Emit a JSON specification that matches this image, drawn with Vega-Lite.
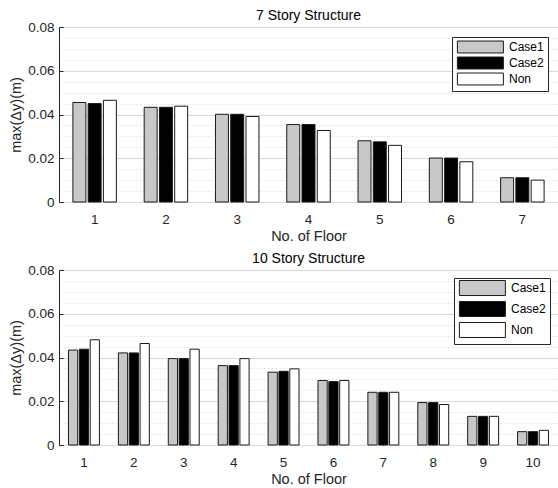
{
 "$schema": "https://vega.github.io/schema/vega-lite/v6.json",
 "background": "white",
 "padding": {"left": 8, "top": 8, "right": 1, "bottom": 0},
 "spacing": 7,
 "datasets": {
  "s7": [
   {"floor": 1, "case": "Case1", "v": 0.0455}, {"floor": 1, "case": "Case2", "v": 0.0450}, {"floor": 1, "case": "Non", "v": 0.0465},
   {"floor": 2, "case": "Case1", "v": 0.0433}, {"floor": 2, "case": "Case2", "v": 0.0433}, {"floor": 2, "case": "Non", "v": 0.0438},
   {"floor": 3, "case": "Case1", "v": 0.0401}, {"floor": 3, "case": "Case2", "v": 0.0401}, {"floor": 3, "case": "Non", "v": 0.0391},
   {"floor": 4, "case": "Case1", "v": 0.0354}, {"floor": 4, "case": "Case2", "v": 0.0354}, {"floor": 4, "case": "Non", "v": 0.0327},
   {"floor": 5, "case": "Case1", "v": 0.0280}, {"floor": 5, "case": "Case2", "v": 0.0275}, {"floor": 5, "case": "Non", "v": 0.0259},
   {"floor": 6, "case": "Case1", "v": 0.0201}, {"floor": 6, "case": "Case2", "v": 0.0201}, {"floor": 6, "case": "Non", "v": 0.0184},
   {"floor": 7, "case": "Case1", "v": 0.0111}, {"floor": 7, "case": "Case2", "v": 0.0111}, {"floor": 7, "case": "Non", "v": 0.0100}
  ],
  "s10": [
   {"floor": 1, "case": "Case1", "v": 0.0434}, {"floor": 1, "case": "Case2", "v": 0.0438}, {"floor": 1, "case": "Non", "v": 0.0481},
   {"floor": 2, "case": "Case1", "v": 0.0421}, {"floor": 2, "case": "Case2", "v": 0.0421}, {"floor": 2, "case": "Non", "v": 0.0464},
   {"floor": 3, "case": "Case1", "v": 0.0395}, {"floor": 3, "case": "Case2", "v": 0.0395}, {"floor": 3, "case": "Non", "v": 0.0438},
   {"floor": 4, "case": "Case1", "v": 0.0363}, {"floor": 4, "case": "Case2", "v": 0.0363}, {"floor": 4, "case": "Non", "v": 0.0395},
   {"floor": 5, "case": "Case1", "v": 0.0333}, {"floor": 5, "case": "Case2", "v": 0.0337}, {"floor": 5, "case": "Non", "v": 0.0348},
   {"floor": 6, "case": "Case1", "v": 0.0295}, {"floor": 6, "case": "Case2", "v": 0.0290}, {"floor": 6, "case": "Non", "v": 0.0295},
   {"floor": 7, "case": "Case1", "v": 0.0241}, {"floor": 7, "case": "Case2", "v": 0.0241}, {"floor": 7, "case": "Non", "v": 0.0241},
   {"floor": 8, "case": "Case1", "v": 0.0194}, {"floor": 8, "case": "Case2", "v": 0.0194}, {"floor": 8, "case": "Non", "v": 0.0185},
   {"floor": 9, "case": "Case1", "v": 0.0131}, {"floor": 9, "case": "Case2", "v": 0.0131}, {"floor": 9, "case": "Non", "v": 0.0131},
   {"floor": 10, "case": "Case1", "v": 0.0061}, {"floor": 10, "case": "Case2", "v": 0.0061}, {"floor": 10, "case": "Non", "v": 0.0067}
  ]
 },
 "config": {
  "font": "Liberation Sans",
  "view": {"stroke": "#262626", "strokeWidth": 1},
  "axis": {"domain": false, "grid": false, "labelFont": "Liberation Sans", "labelFontSize": 13.5, "labelColor": "#262626", "titleFont": "Liberation Sans", "titleFontSize": 14.5, "titleFontWeight": "normal", "titleColor": "#262626", "tickColor": "#262626", "tickSize": 4},
  "axisX": {"offset": -4, "labelPadding": 10, "titlePadding": 4, "labelAngle": 0},
  "axisY": {"offset": -4, "labelPadding": 5, "labelOverlap": false},
  "title": {"font": "Liberation Sans", "fontSize": 14, "fontWeight": "normal", "color": "#000000", "offset": -3},
  "legend": {"orient": "top-right", "symbolSize": 84.6, "symbolStrokeColor": "#1a1a1a", "symbolStrokeWidth": 1, "symbolOpacity": 1, "labelFont": "Liberation Sans", "labelFontSize": 12, "labelColor": "#000000", "labelOffset": 41, "padding": 4, "strokeColor": "#262626", "fillColor": "white", "cornerRadius": 0}
 },
 "vconcat": [
  {
   "width": 499, "height": 175,
   "title": "7 Story Structure",
   "data": {"name": "s7"},
   "mark": {"type": "bar", "stroke": "#1a1a1a", "strokeWidth": 1},
   "encoding": {
    "x": {"field": "floor", "type": "ordinal", "scale": {"paddingInner": 0.39, "paddingOuter": 0.195}, "axis": {"title": "No. of Floor"}},
    "xOffset": {"field": "case", "type": "nominal", "scale": {"paddingInner": 0.15}},
    "y": {"field": "v", "type": "quantitative", "scale": {"domain": [0, 0.08]}, "axis": {"title": "max(Δy)(m)", "values": [0, 0.005, 0.01, 0.015, 0.02, 0.025, 0.03, 0.035, 0.04, 0.045, 0.05, 0.055, 0.06, 0.065, 0.07, 0.075, 0.08], "format": "~g", "labelExpr": "abs(datum.value*50 - round(datum.value*50)) < 0.001 ? datum.label : ''", "grid": true, "gridColor": {"condition": {"test": "abs(datum.value*50 - round(datum.value*50)) < 0.001", "value": "#d9d9d9"}, "value": "#e2e2e2"}, "gridDash": {"condition": {"test": "abs(datum.value*50 - round(datum.value*50)) < 0.001", "value": []}, "value": [2, 2]}, "tickOpacity": {"condition": {"test": "abs(datum.value*50 - round(datum.value*50)) < 0.001", "value": 1}, "value": 0}}},
    "fill": {"field": "case", "type": "nominal", "scale": {"domain": ["Case1", "Case2", "Non"], "range": ["#c8c8c8", "#000000", "#ffffff"]}, "legend": {"title": null, "symbolType": "M-1,-1.3H9V1.3H-1Z", "rowPadding": 0, "offset": 10}}
   }
  },
  {
   "width": 499, "height": 175,
   "title": "10 Story Structure",
   "data": {"name": "s10"},
   "mark": {"type": "bar", "stroke": "#1a1a1a", "strokeWidth": 1},
   "encoding": {
    "x": {"field": "floor", "type": "ordinal", "scale": {"paddingInner": 0.38, "paddingOuter": 0.19}, "axis": {"title": "No. of Floor"}},
    "xOffset": {"field": "case", "type": "nominal", "scale": {"paddingInner": 0.15}},
    "y": {"field": "v", "type": "quantitative", "scale": {"domain": [0, 0.08]}, "axis": {"title": "max(Δy)(m)", "values": [0, 0.005, 0.01, 0.015, 0.02, 0.025, 0.03, 0.035, 0.04, 0.045, 0.05, 0.055, 0.06, 0.065, 0.07, 0.075, 0.08], "format": "~g", "labelExpr": "abs(datum.value*50 - round(datum.value*50)) < 0.001 ? datum.label : ''", "grid": true, "gridColor": {"condition": {"test": "abs(datum.value*50 - round(datum.value*50)) < 0.001", "value": "#d9d9d9"}, "value": "#e2e2e2"}, "gridDash": {"condition": {"test": "abs(datum.value*50 - round(datum.value*50)) < 0.001", "value": []}, "value": [2, 2]}, "tickOpacity": {"condition": {"test": "abs(datum.value*50 - round(datum.value*50)) < 0.001", "value": 1}, "value": 0}}},
    "fill": {"field": "case", "type": "nominal", "scale": {"domain": ["Case1", "Case2", "Non"], "range": ["#c8c8c8", "#000000", "#ffffff"]}, "legend": {"title": null, "symbolType": "M-1,-1.63H9V1.63H-1Z", "rowPadding": 1, "offset": 8}}
   }
  }
 ],
 "resolve": {"scale": {"fill": "independent", "x": "independent", "xOffset": "independent", "y": "independent"}, "legend": {"fill": "independent"}}
}
